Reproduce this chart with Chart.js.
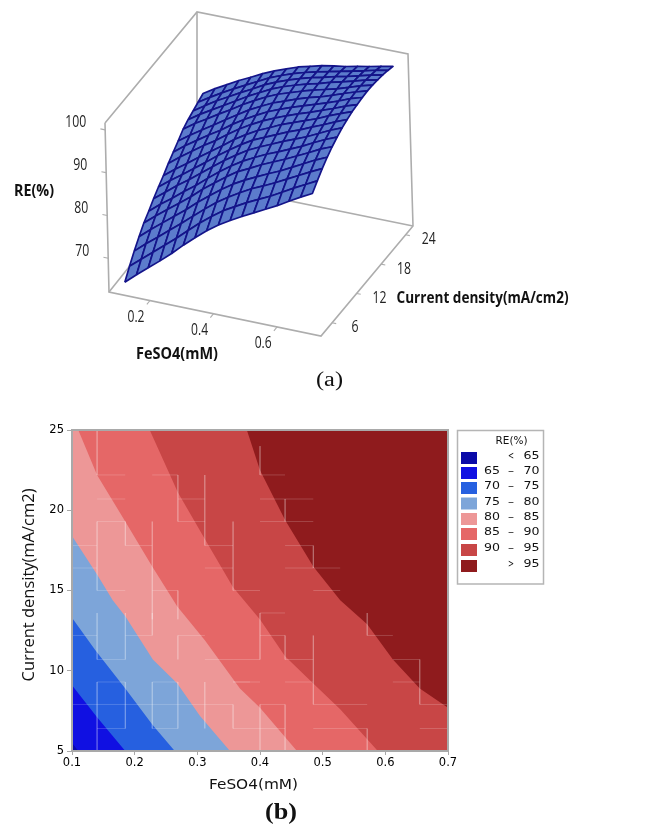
<!DOCTYPE html>
<html><head><meta charset="utf-8">
<script src="https://cdn.jsdelivr.net/npm/chart.js@4"></script>
<style>html,body{margin:0;padding:0;background:#fff}canvas{position:absolute;left:0}</style>
</head><body>
<canvas id="a" width="666" height="400" style="top:0"></canvas>
<canvas id="b" width="666" height="426" style="top:400px"></canvas>
<script>
// ---------- data ----------
const feso4 = [0.1,0.1375,0.175,0.2125,0.25,0.2875,0.325,0.3625,0.4,0.4375,0.475,0.5125,0.55,0.5875,0.625,0.6625,0.7];
const currentDensity = [5,6.25,7.5,8.75,10,11.25,12.5,13.75,15,16.25,17.5,18.75,20,21.25,22.5,23.75,25];
const re = [
[62.9,65.2,67.4,69.6,71.9,74.4,76.7,78.9,80.8,82.4,83.9,85.3,86.7,88.1,89.7,91.2,92.6],
[65.2,67.4,69.6,71.8,74.0,76.4,78.7,80.8,82.7,84.2,85.7,87.0,88.3,89.8,91.3,92.7,94.1],
[67.3,69.6,71.7,73.9,76.0,78.3,80.5,82.6,84.4,86.0,87.5,88.7,90.0,91.4,92.8,94.2,95.5],
[69.2,71.5,73.6,75.7,77.8,80.1,82.2,84.2,86.0,87.5,88.8,90.1,91.3,92.7,94.1,95.5,96.7],
[71.0,73.2,75.3,77.3,79.4,81.7,83.7,85.7,87.5,88.8,90.2,91.4,92.6,93.9,95.2,96.6,97.7],
[72.3,74.5,76.5,78.6,80.6,82.8,84.9,86.8,88.5,89.9,91.2,92.3,93.5,94.7,96.1,97.4,98.5],
[73.8,75.9,78.0,79.9,82.0,84.1,86.1,87.9,89.6,90.9,92.1,93.3,94.4,95.5,96.8,98.1,99.2],
[75.1,77.2,79.1,81.1,83.1,85.2,87.1,88.9,90.5,91.7,92.9,94.1,95.1,96.3,97.4,98.6,99.7],
[76.3,78.4,80.3,82.3,84.2,86.1,88.1,89.8,91.3,92.5,93.8,94.8,95.8,96.8,98.0,99.1,100.1],
[77.7,79.8,81.7,83.6,85.3,87.3,89.1,90.7,92.1,93.3,94.4,95.4,96.3,97.3,98.3,99.4,100.3],
[78.9,81.0,82.8,84.6,86.3,88.2,89.9,91.4,92.8,93.9,94.9,95.8,96.7,97.6,98.6,99.7,100.5],
[80.1,82.0,83.8,85.5,87.3,89.0,90.7,92.1,93.4,94.4,95.4,96.3,97.0,97.9,98.9,99.8,100.6],
[81.4,83.3,84.9,86.6,88.2,89.9,91.4,92.8,94.0,94.9,95.8,96.6,97.3,98.0,98.9,99.8,100.5],
[82.2,84.0,85.6,87.2,88.8,90.4,91.8,93.2,94.3,95.2,96.0,96.7,97.5,98.2,98.9,99.7,100.3],
[82.8,84.6,86.3,87.8,89.3,90.7,92.2,93.4,94.4,95.3,96.1,96.7,97.4,98.0,98.7,99.4,100.0],
[83.4,85.1,86.7,88.2,89.6,91.0,92.4,93.5,94.5,95.3,96.0,96.6,97.2,97.8,98.4,99.1,99.6],
[84.0,85.7,87.2,88.7,90.0,91.4,92.6,93.6,94.6,95.3,96.0,96.5,96.9,97.5,98.0,98.6,99.1]
];
const xTicks3d = [0.2,0.4,0.6];
const yTicks3d = [6,12,18,24];
const zTicks3d = [70,80,90,100];

// contour lines of panel (b): [FeSO4, current density]
const contour65 = [[0.10,5.5],[0.11,5]];
const contour70 = [[0.10,9.1],[0.14,7.1],[0.185,5]];
const contour75 = [[0.10,13.3],[0.137,11.3],[0.185,8.9],[0.229,6.6],[0.264,5]];
const contour80 = [[0.10,18.4],[0.14,16],[0.165,14.4],[0.185,13.4],[0.229,10.7],[0.268,9.2],[0.304,7.2],[0.352,5]];
const contour85 = [[0.11,25],[0.14,22.2],[0.185,19.3],[0.228,16.5],[0.268,14],[0.312,11.9],[0.368,8.9],[0.40,7.7],[0.459,5]];
const contour90 = [[0.224,25],[0.269,21.1],[0.315,18],[0.357,15.2],[0.40,13.2],[0.44,10.9],[0.485,9.2],[0.528,7.6],[0.588,5]];
const contour95 = [[0.379,25],[0.40,22.5],[0.44,19.4],[0.485,16.5],[0.528,14.4],[0.571,12.9],[0.612,10.7],[0.655,8.9],[0.70,7.7]];
const bandLabels = [["","<","65"],["65","–","70"],["70","–","75"],["75","–","80"],["80","–","85"],["85","–","90"],["90","–","95"],["",">","95"]];
const bandColors = ["#0a0aa8","#1010e2","#2660e0","#7da5d9","#ed9797","#e56767","#c84646","#8f1b1d"];
// faint seam lines in the contour fill: [x1,y1,x2,y2]
const seams = [
[.14,25,.14,22.2],[.14,22.2,.185,22.2],[.228,22.2,.269,22.2],[.269,22.2,.269,19.3],[.14,20.7,.185,20.7],[.269,20.7,.312,20.7],
[.14,19.3,.185,19.3],[.269,19.3,.312,19.3],[.14,19.3,.14,15],[.185,19.3,.185,17.8],[.1,17.8,.14,17.8],[.185,17.8,.228,17.8],[.312,17.8,.357,17.8],
[.312,22.2,.312,17.8],[.357,19.3,.357,15],[.1,16.4,.14,16.4],[.312,16.4,.357,16.4],[.228,19.3,.228,13.2],[.14,15,.185,15],[.228,15,.269,15],[.357,15,.4,15],[.269,15,.269,13.2],
[.4,24,.4,22.2],[.4,22.2,.44,22.2],[.4,20.7,.485,20.7],[.44,20.7,.44,19.3],[.4,19.3,.485,19.3],[.44,17.8,.485,17.8],[.485,17.8,.485,16.4],[.44,16.4,.528,16.4],[.485,15,.528,15],[.4,13.6,.44,13.6],
[.4,13.6,.4,10.7],[.4,12.2,.44,12.2],[.571,12.2,.612,12.2],[.44,12.2,.44,10.7],[.357,10.7,.4,10.7],[.44,10.7,.485,10.7],[.612,10.7,.655,10.7],[.485,12.2,.485,7.9],[.571,13.6,.571,12.2],[.655,10.7,.655,7.9],
[.357,9.3,.4,9.3],[.44,9.3,.485,9.3],[.612,9.3,.655,9.3],[.4,7.9,.44,7.9],[.485,7.9,.571,7.9],[.655,7.9,.7,7.9],[.4,7.9,.4,5],[.44,7.9,.44,5],[.357,6.4,.44,6.4],[.485,6.4,.571,6.4],[.655,6.4,.7,6.4],[.571,6.4,.571,5],
[.14,13.6,.14,10.7],[.185,13.6,.185,10.7],[.1,12.2,.14,12.2],[.185,12.2,.228,12.2],[.269,12.2,.312,12.2],[.14,10.7,.185,10.7],[.312,10.7,.357,10.7],[.228,13.6,.228,12.2],[.269,12.2,.269,10.7],
[.14,9.3,.185,9.3],[.228,9.3,.269,9.3],[.357,9.3,.384,9.3],[.14,9.3,.14,5],[.185,9.3,.185,6.4],[.228,9.3,.228,6.4],[.269,9.3,.269,6.4],[.312,9.3,.312,6.4],[.1,7.9,.357,7.9],[.14,6.4,.185,6.4],[.228,6.4,.269,6.4],[.357,7.9,.357,6.4]
];

// ---------- 3D projection of panel (a) ----------
const bounds = {x:[0.071,0.738], y:[3.3,25.8], z:[62.1,101.6]};
const corners = { // page position of the eight box corners
  A:[109,292], B:[321,336], C:[413,226], D:[197,182],
  E:[105,123], H:[316.5,165.5], G:[408,54], F:[197,12]
};
function mix(p,q,t){return [p[0]+(q[0]-p[0])*t,p[1]+(q[1]-p[1])*t];}
function project(x,y,z){
  const u=(x-bounds.x[0])/(bounds.x[1]-bounds.x[0]);
  const v=(y-bounds.y[0])/(bounds.y[1]-bounds.y[0]);
  const w=(z-bounds.z[0])/(bounds.z[1]-bounds.z[0]);
  const c=corners;
  const f=mix(mix(c.A,c.B,u),mix(c.D,c.C,u),v);
  const t=mix(mix(c.E,c.H,u),mix(c.F,c.G,u),v);
  const p=mix(f,t,w);
  return {x:p[0],y:p[1]};
}
const X0=bounds.x[0],X1=bounds.x[1],Y0=bounds.y[0],Y1=bounds.y[1],Z0=bounds.z[0],Z1=bounds.z[1];

function fitText(ctx,text,x,y,font,width,color,align,rot){
  ctx.save();
  ctx.font=font;ctx.fillStyle=color||'#111';ctx.textBaseline='middle';ctx.textAlign=align||'center';
  const m=ctx.measureText(text).width;
  ctx.translate(x,y);
  if(rot) ctx.rotate(rot);
  ctx.scale(width?width/m:1,1);
  ctx.fillText(text,0,0);
  ctx.restore();
}

const grayLine='#adadad';
const boxDatasets=[];
function boxLine(pts,w){
  boxDatasets.push({data:pts.map(p=>project(p[0],p[1],p[2])),showLine:true,fill:false,borderColor:grayLine,borderWidth:w||1.6,pointRadius:0});
}
boxLine([[X0,Y0,Z1],[X0,Y0,Z0],[X1,Y0,Z0],[X1,Y1,Z0],[X1,Y1,Z1],[X0,Y1,Z1],[X0,Y0,Z1]]);
boxLine([[X0,Y1,Z1],[X0,Y1,Z0],[X1,Y1,Z0]]);
boxLine([[X0,Y0,Z0],[X0,Y1,Z0]]);
xTicks3d.forEach(t=>boxLine([[t,Y0,Z0],[t,Y0-0.8,Z0]],1.1));
yTicks3d.forEach(t=>boxLine([[X1,t,Z0],[X1+0.013,t,Z0]],1.1));
zTicks3d.forEach(t=>boxLine([[X0,Y0,t],[X0-0.015,Y0,t]],1.1));

const quadDatasets=[];
for(let j=0;j<currentDensity.length-1;j++){
  for(let i=feso4.length-2;i>=0;i--){
    const q=[[i,j],[i+1,j],[i+1,j+1],[i,j+1],[i,j]].map(([a,b])=>project(feso4[a],currentDensity[b],re[b][a]));
    quadDatasets.push({data:q,showLine:true,fill:'shape',backgroundColor:'#5c7ccc',borderColor:'#14148a',borderWidth:1.7,borderDash:[9999,1],borderJoinStyle:'round',pointRadius:0});
  }
}
const labelsA={id:'labelsA',afterDraw(c){
  const ctx=c.ctx;
  const tickFont='15.5px "Open Sans"';
  zTicks3d.forEach(t=>{const p=project(X0,Y0,t);fitText(ctx,String(t),p.x-19,p.y-7,tickFont,t===100?21:14,'#222','right');});
  xTicks3d.forEach(t=>{const p=project(t,Y0,Z0);fitText(ctx,t.toFixed(1),p.x-14,p.y+17,tickFont,17,'#222');});
  yTicks3d.forEach(t=>{const p=project(X1,t,Z0);fitText(ctx,String(t),p.x+23,p.y+5,tickFont,t===6?7:14,'#222');});
  const b='bold 15.5px "Open Sans"';
  fitText(ctx,'RE(%)',34,192,b,40);
  fitText(ctx,'FeSO4(mM)',177,355,b,82);
  fitText(ctx,'Current density(mA/cm2)',482.5,299,b,172);
  fitText(ctx,'(a)',329.5,381,'20px "Liberation Serif"',27);
}};
new Chart(document.getElementById('a'),{type:'scatter',
  data:{datasets:[...quadDatasets,...boxDatasets]},
  options:{responsive:false,animation:false,events:[],
    layout:{padding:0},
    plugins:{legend:{display:false},tooltip:{enabled:false}},
    scales:{x:{type:'linear',display:false,min:0,max:666},y:{type:'linear',display:false,min:0,max:400,reverse:true}}},
  plugins:[labelsA]});

// ---------- contour panel (b) ----------
const toPts=a=>a.map(p=>({x:p[0],y:p[1]}));
const withCorner=a=>[{x:0.1,y:25},...toPts(a)];
function band(pts,color){return {data:pts,showLine:true,fill:'start',backgroundColor:color,borderColor:color,borderWidth:0,pointRadius:0};}
const seamPts=[];
seams.forEach(s=>{seamPts.push({x:s[0],y:s[1]},{x:s[2],y:s[3]},{x:null,y:null});});
const fBands=[
 {data:[{x:.1,y:5},{x:.1,y:25},{x:.7,y:25},{x:.7,y:5},{x:.1,y:5}],showLine:true,fill:false,borderColor:'#a9a9a9',borderWidth:2,pointRadius:0,clip:false},
 {data:seamPts,showLine:true,fill:false,spanGaps:false,borderColor:'rgba(255,255,255,0.18)',borderWidth:1,pointRadius:0},
 band(toPts(contour65),bandColors[0]),
 band(toPts(contour70),bandColors[1]),
 band(toPts(contour75),bandColors[2]),
 band(toPts(contour80),bandColors[3]),
 band(withCorner(contour85),bandColors[4]),
 band(withCorner(contour90),bandColors[5]),
 band(withCorner(contour95),bandColors[6]),
 band([{x:.1,y:25},{x:.7,y:25}],bandColors[7])
];
const OFF=400;
const legendB={id:'legendB',afterDraw(c){
  const ctx=c.ctx;
  ctx.save();
  ctx.strokeStyle='#b5b5b5';ctx.lineWidth=1.5;ctx.strokeRect(457.5,430.5-OFF,86,153.5);
  const f='11px "DejaVu Sans"';
  fitText(ctx,'RE(%)',511.5,441.5-OFF,'10px "DejaVu Sans"',32,'#111');
  const tops=[452,467,482,497.5,513,528,544,560];
  bandLabels.forEach((l,i)=>{
    const y=tops[i]-OFF;
    ctx.fillStyle=bandColors[i];ctx.fillRect(461,y,16,12);
    const ty=y+4.5;
    if(l[0]) fitText(ctx,l[0],492,ty,f,16,'#111');
    fitText(ctx,l[1],511,ty,f,6,'#111');
    fitText(ctx,l[2],531.5,ty,f,16,'#111');
  });
  ctx.restore();
  fitText(ctx,'FeSO4(mM)',253.5,785-OFF,'14px "DejaVu Sans"',89,'#111');
  fitText(ctx,'Current density(mA/cm2)',29,585-OFF,'16px "Open Sans"',193,'#111','center',-Math.PI/2);
  fitText(ctx,'(b)',281,813-OFF,'bold 24px "Liberation Serif"',32,'#111');
}};
new Chart(document.getElementById('b'),{type:'scatter',
  data:{datasets:fBands},
  options:{responsive:false,animation:false,events:[],
    layout:{padding:{top:30,left:0,right:218,bottom:0}},
    plugins:{legend:{display:false},tooltip:{enabled:false}},
    scales:{
      x:{type:'linear',min:0.1,max:0.7,afterFit:s=>{s.height=75;},
        grid:{drawOnChartArea:false,color:'#a9a9a9',tickLength:4},border:{color:'#a9a9a9'},
        ticks:{stepSize:0.1,autoSkip:false,maxRotation:0,padding:1,color:'#000',font:{family:'"DejaVu Sans"',size:11.5},callback:v=>v.toFixed(1)}},
      y:{type:'linear',min:5,max:25,afterFit:s=>{s.width=72;},
        grid:{drawOnChartArea:false,color:'#a9a9a9',tickLength:5},border:{color:'#a9a9a9'},
        ticks:{stepSize:5,autoSkip:false,padding:3,color:'#000',font:{family:'"DejaVu Sans"',size:11.5}}}
    }},
  plugins:[legendB]});
</script>
</body></html>
